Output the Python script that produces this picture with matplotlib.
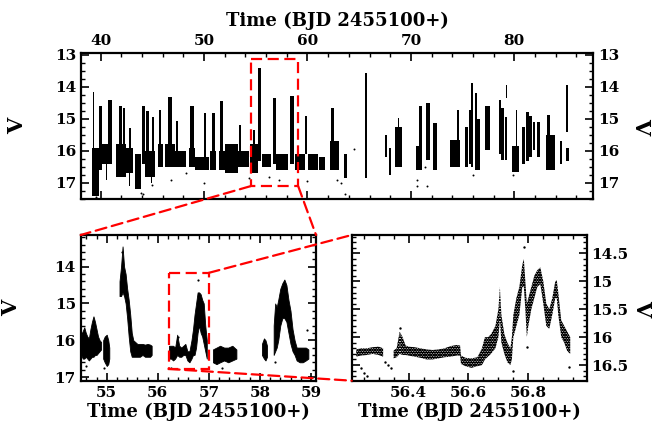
import numpy as np
import matplotlib.pyplot as plt
from matplotlib.patches import Rectangle, ConnectionPatch
from matplotlib.ticker import MultipleLocator, FormatStrFormatter

plt.rcParams['font.family'] = 'DejaVu Serif'
plt.rcParams['font.weight'] = 'bold'
plt.rcParams['axes.labelweight'] = 'bold'
plt.rcParams['axes.linewidth'] = 1.6
plt.rcParams['hatch.linewidth'] = 1.6

# ---- top panel: nightly columns of the light curve (centre, width, bright edge, faint edge)
top_t = [39.5, 39.3, 40.0, 40.4, 40.6, 40.9, 42.0, 41.9, 42.25, 42.82, 42.8, 42.8,
         43.62, 44.12, 44.77, 44.54, 45.09, 44.9, 45.78, 45.73, 46.7, 46.7, 47.75, 47.35,
         48.8, 48.85, 49.8, 50.1, 50.88, 50.9, 51.7, 51.7, 52.65, 53.47, 53.8, 54.8,
         54.85, 55.4, 56.05, 56.8, 57.55, 58.53, 59.3, 59.85, 60.55, 61.4, 62.6, 62.4,
         63.68, 65.64, 67.6, 68.0, 68.78, 68.8, 70.75, 70.93, 71.65, 72.32, 74.25, 74.58,
         75.38, 75.7, 75.9, 76.45, 76.3, 77.4, 78.6, 78.85, 79.2, 79.26, 80.1, 80.2,
         80.85, 81.25, 81.6, 81.9, 82.32, 83.5, 83.3, 84.48, 85.05, 85.15]
top_w = [0.6, 0.12, 0.3, 0.6, 0.1, 0.35, 1.0, 0.3, 0.22, 0.65, 0.2, 0.1,
         0.65, 0.3, 0.95, 0.22, 0.22, 0.1, 0.45, 0.22, 1.0, 0.35, 1.1, 0.22,
         0.6, 0.45, 1.4, 0.12, 0.63, 0.22, 0.6, 0.3, 1.3, 0.22, 1.0, 0.8,
         0.22, 0.3, 0.9, 0.3, 1.1, 0.4, 1.0, 0.12, 0.95, 0.6, 0.8, 0.35,
         0.35, 0.2, 0.2, 0.23, 0.65, 0.15, 0.55, 0.22, 0.3, 0.35, 0.9, 0.2,
         0.35, 0.18, 0.22, 0.45, 0.18, 0.5, 0.2, 0.2, 0.25, 0.15, 0.6, 0.18,
         0.3, 0.3, 0.3, 0.15, 0.35, 0.8, 0.2, 0.17, 0.18, 0.3]
top_bright = [15.9, 14.15, 14.6, 15.8, 16.4, 14.4, 15.8, 14.6, 14.65, 15.9, 15.3, 16.7,
              16.1, 14.6, 16.0, 14.77, 14.93, 16.8, 15.8, 14.72, 15.8, 14.33, 16.0, 15.08,
              15.9, 14.6, 16.2, 14.82, 16.0, 14.82, 16.0, 14.46, 15.8, 15.19, 16.0, 15.8,
              15.34, 13.42, 16.1, 14.35, 16.1, 14.3, 16.1, 14.9, 16.1, 16.2, 15.7, 14.67,
              16.1, 13.57, 15.5, 15.9, 15.24, 14.98, 15.86, 14.6, 14.5, 15.13, 15.66, 14.72,
              15.24, 14.72, 13.89, 15.0, 14.2, 14.61, 14.4, 14.67, 14.93, 13.94, 15.86, 14.72,
              15.24, 14.8, 14.9, 15.1, 15.1, 15.5, 14.87, 15.7, 13.94, 15.9]
top_faint = [17.4, 15.9, 16.6, 16.4, 16.9, 16.4, 16.8, 16.0, 16.0, 16.7, 15.9, 17.1,
             17.2, 16.4, 16.8, 16.0, 16.0, 17.0, 16.5, 15.8, 16.5, 15.8, 16.5, 16.0,
             16.5, 15.9, 16.6, 16.2, 16.6, 16.0, 16.6, 16.0, 16.7, 16.0, 16.5, 16.7,
             15.8, 16.3, 16.5, 16.4, 16.6, 16.4, 16.6, 16.1, 16.6, 16.6, 16.6, 15.7,
             16.85, 16.85, 16.2, 16.75, 16.49, 15.24, 16.6, 15.86, 16.28, 16.6, 16.49, 15.66,
             16.49, 16.4, 16.5, 16.6, 15.0, 15.97, 16.1, 16.28, 16.28, 14.35, 16.65, 15.86,
             16.4, 16.3, 16.2, 15.97, 16.2, 16.6, 15.5, 16.4, 15.4, 16.3]
top_dot_t = [39.6, 43.9, 44.1, 44.95, 46.8, 48.3, 50.0, 54.3, 56.3, 57.2, 60.0, 62.9,
             63.2, 63.6, 64.5, 70.55, 70.6, 71.6, 71.4, 76.0, 79.9]
top_dot_v = [17.45, 17.3, 17.35, 17.05, 16.9, 16.7, 17.0, 16.85, 16.8, 16.9, 16.95, 16.9,
             17.0, 17.34, 15.95, 17.1, 16.9, 17.1, 16.5, 16.75, 16.75]

# ---- lower left panel: envelopes of each observed stretch
bl_t = [[54.50, 54.53, 54.56, 54.59, 54.62, 54.65, 54.68, 54.71, 54.74, 54.77, 54.80, 54.83, 54.86, 54.89],
        [54.93, 54.96, 55.00, 55.03, 55.05],
        [55.25, 55.28, 55.31, 55.34, 55.37, 55.40, 55.43, 55.46, 55.49, 55.52, 55.56, 55.60, 55.65, 55.70,
         55.75, 55.80, 55.85, 55.88],
        [56.22, 56.26, 56.30, 56.34, 56.38, 56.42, 56.46, 56.50, 56.54, 56.58, 56.62, 56.66, 56.69, 56.72,
         56.75, 56.78, 56.81, 56.84, 56.87, 56.90, 56.93, 56.96],
        [57.08, 57.15, 57.22, 57.30, 57.38, 57.46, 57.54],
        [58.04, 58.08, 58.11, 58.14],
        [58.27, 58.30, 58.33, 58.36, 58.40, 58.44, 58.48, 58.52, 58.56, 58.60, 58.64, 58.68, 58.72, 58.78,
         58.84, 58.90, 58.95]]
bl_bright = [[15.85, 15.75, 15.65, 15.8, 15.9, 15.95, 15.7, 15.5, 15.35, 15.5, 15.7, 15.9, 16.0, 16.05],
             [16.0, 15.9, 15.85, 16.0, 16.2],
             [14.4, 14.0, 13.45, 14.0, 14.2, 14.6, 14.9, 15.3, 15.8, 16.0, 16.05, 16.1, 16.1, 16.1,
              16.12, 16.1, 16.12, 16.15],
             [16.15, 16.15, 16.15, 16.2, 15.85, 16.15, 16.2, 16.15, 16.1, 16.3, 16.3, 16.0, 15.7, 15.3,
              15.0, 14.7, 14.7, 14.75, 14.9, 15.0, 15.6, 16.0],
             [16.25, 16.2, 16.15, 16.2, 16.2, 16.15, 16.25],
             [16.1, 15.95, 16.0, 16.15],
             [15.6, 15.0, 15.1, 14.9, 14.6, 14.45, 14.35, 14.5, 14.9, 15.2, 15.7, 16.0, 16.2, 16.2,
              16.2, 16.2, 16.25]]
bl_faint = [[16.4, 16.5, 16.5, 16.45, 16.5, 16.55, 16.5, 16.45, 16.45, 16.4, 16.4, 16.35, 16.3, 16.25],
            [16.5, 16.6, 16.7, 16.65, 16.5],
            [14.8, 14.8, 14.7, 14.8, 15.0, 15.4, 15.9, 16.3, 16.45, 16.45, 16.45, 16.45, 16.45, 16.4,
             16.45, 16.45, 16.45, 16.4],
            [16.5, 16.5, 16.55, 16.5, 16.4, 16.45, 16.45, 16.4, 16.4, 16.55, 16.6, 16.5, 16.4, 16.4,
             16.2, 15.8, 15.6, 15.8, 15.9, 16.1, 16.3, 16.5],
            [16.6, 16.65, 16.6, 16.55, 16.6, 16.55, 16.5],
            [16.4, 16.5, 16.55, 16.45],
            [16.4, 16.3, 16.2, 16.0, 15.6, 15.4, 15.4, 15.5, 15.8, 16.1, 16.3, 16.4, 16.55, 16.6,
             16.6, 16.55, 16.5]]
bl_dot_t = [54.6, 54.95, 56.25, 56.79, 57.25, 58.3, 58.93, 55.3, 56.4]
bl_dot_v = [16.7, 16.75, 16.75, 14.36, 16.75, 16.6, 15.71, 13.6, 15.9]

# ---- lower right panel: envelopes of the 56.2-57.0 night
br_t = [[56.225, 56.24, 56.26, 56.28, 56.30, 56.315],
        [56.35, 56.36, 56.37, 56.38, 56.39, 56.40, 56.42, 56.44, 56.46, 56.48, 56.50, 56.52, 56.54,
         56.56, 56.572, 56.575, 56.59, 56.61, 56.63, 56.645, 56.655, 56.665, 56.675, 56.69, 56.70,
         56.705, 56.71, 56.72, 56.73, 56.74, 56.745, 56.75, 56.76, 56.77, 56.78, 56.785, 56.79,
         56.795, 56.80, 56.81, 56.82, 56.83, 56.84, 56.85, 56.86, 56.87, 56.88, 56.89, 56.895,
         56.90, 56.91, 56.92, 56.93, 56.94]]
br_bright = [[16.22, 16.2, 16.2, 16.18, 16.17, 16.2],
             [16.24, 16.2, 15.9, 16.0, 16.15, 16.17, 16.18, 16.2, 16.22, 16.23, 16.22, 16.2, 16.16,
              16.14, 16.15, 16.33, 16.37, 16.38, 16.36, 16.2, 16.0, 16.0, 15.95, 15.8, 15.5,
              15.1, 15.6, 15.95, 16.1, 16.2, 16.0, 15.6, 15.3, 15.1, 14.7, 14.6, 15.0,
              15.4, 15.3, 15.1, 14.9, 14.8, 14.75, 15.0, 15.4, 15.5, 15.3, 15.0, 14.98,
              15.2, 15.7, 15.8, 15.9, 16.0]]
br_faint = [[16.35, 16.33, 16.32, 16.3, 16.32, 16.35],
            [16.38, 16.36, 16.3, 16.32, 16.32, 16.33, 16.35, 16.37, 16.4, 16.4, 16.38, 16.36, 16.35,
             16.33, 16.33, 16.48, 16.52, 16.55, 16.52, 16.5, 16.4, 16.35, 16.3, 16.2, 16.0,
             15.7, 16.1, 16.3, 16.45, 16.5, 16.4, 16.0, 15.8, 15.6, 15.1, 15.1, 15.5,
             16.0, 15.8, 15.5, 15.3, 15.1, 15.05, 15.4, 15.8, 15.85, 15.6, 15.3, 15.3,
             15.6, 16.0, 16.1, 16.25, 16.3]]
br_dot_t = [56.785, 56.24, 56.25, 56.26, 56.33, 56.34, 56.37, 56.795, 56.935, 56.75, 56.32]
br_dot_v = [14.38, 16.55, 16.65, 16.7, 16.5, 16.55, 15.83, 16.17, 16.53, 16.6, 16.45]

# axis windows
top_xlim, top_ylim = (38.1, 87.6), (17.5, 12.95)
bl_xlim, bl_ylim = (54.49, 59.1), (17.1, 13.14)
br_xlim, br_ylim = (56.21, 56.995), (16.78, 14.17)

fig = plt.figure(figsize=(6.61, 4.29), dpi=100)
ax_top = fig.add_axes([0.1225, 0.5361, 0.7746, 0.3403])
ax_bl = fig.add_axes([0.1221, 0.1126, 0.3560, 0.3396])
ax_br = fig.add_axes([0.5321, 0.1126, 0.3555, 0.3396])

# top panel
ax_top.bar(top_t, np.subtract(top_faint, top_bright), bottom=top_bright, width=top_w,
           color='k', linewidth=0)
ax_top.scatter(top_dot_t, top_dot_v, s=2, color='k', linewidths=0)
ax_top.set_xlim(top_xlim)
ax_top.set_ylim(top_ylim)
ax_top.xaxis.set_major_locator(MultipleLocator(10))
ax_top.xaxis.set_minor_locator(MultipleLocator(2))
ax_top.yaxis.set_major_locator(MultipleLocator(1))
ax_top.yaxis.set_minor_locator(MultipleLocator(0.25))
ax_top.tick_params(labeltop=True, labelbottom=False, labelright=True)
ax_top.xaxis.set_label_position('top')
ax_top.set_xlabel('Time (BJD 2455100+)', fontsize=13, labelpad=6)
ax_top.set_ylabel('V', fontsize=15, labelpad=20)
ax_top.text(1.095, 0.5, 'V', rotation=-90, fontsize=15, fontweight='bold',
            transform=ax_top.transAxes, ha='center', va='center')

# lower left panel
for t, b, f in zip(bl_t, bl_bright, bl_faint):
    ax_bl.fill_between(t, b, f, color='k', linewidth=0.6)
ax_bl.scatter(bl_dot_t, bl_dot_v, s=2.5, color='k', linewidths=0)
ax_bl.set_xlim(bl_xlim)
ax_bl.set_ylim(bl_ylim)
ax_bl.xaxis.set_major_locator(MultipleLocator(1))
ax_bl.xaxis.set_minor_locator(MultipleLocator(0.2))
ax_bl.yaxis.set_major_locator(MultipleLocator(1))
ax_bl.yaxis.set_minor_locator(MultipleLocator(0.2))
ax_bl.set_xlabel('Time (BJD 2455100+)', fontsize=13, labelpad=2)
ax_bl.set_ylabel('V', fontsize=15, labelpad=24)

# lower right panel
for t, b, f in zip(br_t, br_bright, br_faint):
    ax_br.fill_between(t, b, f, facecolor='none', edgecolor='k', hatch='..........', linewidth=0)
ax_br.scatter(br_dot_t, br_dot_v, s=3, color='k', linewidths=0)
ax_br.set_xlim(br_xlim)
ax_br.set_ylim(br_ylim)
ax_br.xaxis.set_major_locator(MultipleLocator(0.2))
ax_br.xaxis.set_minor_locator(MultipleLocator(0.05))
ax_br.yaxis.set_major_locator(MultipleLocator(0.5))
ax_br.yaxis.set_minor_locator(MultipleLocator(0.1))
ax_br.yaxis.set_major_formatter(FormatStrFormatter('%g'))
ax_br.xaxis.set_major_formatter(FormatStrFormatter('%g'))
ax_br.tick_params(labelleft=False, labelright=True)
ax_br.set_xlabel('Time (BJD 2455100+)', fontsize=13, labelpad=2)
ax_br.text(1.235, 0.5, 'V', rotation=-90, fontsize=15, fontweight='bold',
           transform=ax_br.transAxes, ha='center', va='center')

for ax in (ax_top, ax_bl, ax_br):
    ax.tick_params(which='both', direction='in', top=True, right=True, labelsize=11)
    ax.tick_params(which='major', length=6, width=1.2)
    ax.tick_params(which='minor', length=3, width=1)

# zoom boxes and connectors
red = dict(color='red', linestyle=(0, (5, 2.5)), linewidth=1.6)
ax_top.add_patch(Rectangle((bl_xlim[0], bl_ylim[1]), bl_xlim[1] - bl_xlim[0],
                           bl_ylim[0] - bl_ylim[1], fill=False, **red))
ax_bl.add_patch(Rectangle((br_xlim[0], br_ylim[1]), br_xlim[1] - br_xlim[0],
                          br_ylim[0] - br_ylim[1], fill=False, **red))
for xa, xb in ((bl_xlim[0], 0), (bl_xlim[1], 1)):
    fig.add_artist(ConnectionPatch((xa, bl_ylim[0]), (xb, 1), coordsA=ax_top.transData,
                                   coordsB=ax_bl.transAxes, **red))
fig.add_artist(ConnectionPatch((br_xlim[1], br_ylim[1]), (0, 1), coordsA=ax_bl.transData,
                               coordsB=ax_br.transAxes, **red))
fig.add_artist(ConnectionPatch((br_xlim[0], br_ylim[0]), (0, 0), coordsA=ax_bl.transData,
                               coordsB=ax_br.transAxes, **red))

fig.savefig('out.png', dpi=100)
